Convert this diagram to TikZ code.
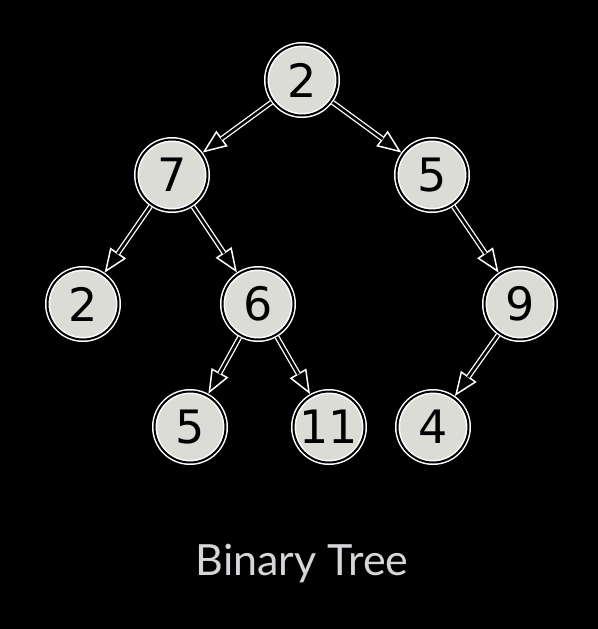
\documentclass[tikz,border=0pt]{standalone}
\usepackage{fontspec}
\setmainfont{DejaVu Sans}
\newfontfamily\captionfont{Lato}
\usetikzlibrary{arrows.meta,positioning}
\definecolor{nodegray}{HTML}{DCDCD7}
\definecolor{captiongray}{HTML}{D6D6DA}

\begin{document}
\begin{tikzpicture}[x=0.5pt,y=-0.5pt,
  vertex/.style={circle,fill=nodegray,draw=white,double=black,double distance=1pt,
    line width=0.75pt,inner sep=0pt,minimum size=35.5pt,outer sep=1.25pt,
    font=\fontsize{23}{24}\selectfont},
  link/.style={draw=white,line width=2.6pt,
    -{Triangle[length=12pt,width=9.5pt,fill=black,line width=0.75pt]},
    postaction={draw=black,line width=1.3pt,-,shorten >=11.5pt}}]
  \fill[black] (0,0) rectangle (598,629);
  \useasboundingbox (0,0) rectangle (598,629);

  \node[vertex] (root) at (302,80)  {2};
  \node[vertex] (a)    at (172,175) {7};
  \node[vertex] (b)    at (432,175) {5};
  \node[vertex] (aa)   at (83,304)  {2};
  \node[vertex] (ab)   at (258,304) {6};
  \node[vertex] (bb)   at (520,304) {9};
  \node[vertex] (aba)  at (190,427) {5};
  \node[vertex] (abb)  at (329,427) {11};
  \node[vertex] (bba)  at (433,427) {4};

  \path (root) edge[link] (a)
               edge[link] (b)
        (a)    edge[link] (aa)
               edge[link] (ab)
        (ab)   edge[link] (aba)
               edge[link] (abb)
        (b)    edge[link] (bb)
        (bb)   edge[link] (bba);

  \node[text=captiongray,font=\captionfont\fontsize{21.5}{24}\selectfont] (title) at (302,563) {Binary Tree};
\end{tikzpicture}
\end{document}
